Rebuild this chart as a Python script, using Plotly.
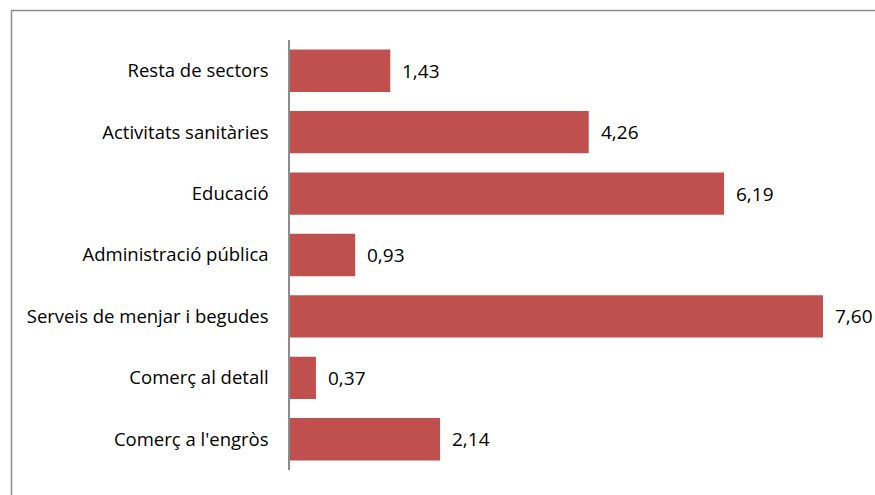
import plotly.graph_objects as go

categories = ["Comerç a l'engròs", "Comerç al detall", "Serveis de menjar i begudes",
              "Administració pública", "Educació", "Activitats sanitàries", "Resta de sectors"]
values = [2.14, 0.37, 7.60, 0.93, 6.19, 4.26, 1.43]
value_labels = ["2,14", "0,37", "7,60", "0,93", "6,19", "4,26", "1,43"]

W, H = 875, 495
ml, mr, mt, mb = 290, 24, 40, 25
pw, ph = W - ml - mr, H - mt - mb

fig = go.Figure(go.Bar(
    x=values, y=categories, orientation="h",
    marker=dict(color="#C0504D", line=dict(width=0)),
    hoverinfo="skip",
))

for v, c, t in zip(values, categories, value_labels):
    fig.add_annotation(x=v, y=c, text=t, showarrow=False, xanchor="left",
                       xshift=10, font=dict(size=19, color="#000000"))

def px_x(p):
    return (p - ml) / pw

def px_y(p):
    return 1 - (p - mt) / ph

fig.add_shape(type="rect", xref="paper", yref="paper",
              x0=px_x(11.5), x1=px_x(880), y0=px_y(10.5), y1=px_y(500),
              line=dict(color="#8C8C8C", width=1.5), fillcolor="rgba(0,0,0,0)", layer="above")

fig.update_layout(
    width=W, height=H,
    margin=dict(l=ml, r=mr, t=mt, b=mb),
    paper_bgcolor="white", plot_bgcolor="white",
    font=dict(family="Open Sans", size=18.5, color="#000000"),
    bargap=0.31,
    showlegend=False,
    xaxis=dict(range=[0, 8], visible=False, showgrid=False, zeroline=False, fixedrange=True),
    yaxis=dict(showline=True, linecolor="#8C8C8C", linewidth=1.5, ticks="",
               showgrid=False, zeroline=False, ticklabelstandoff=16,
               tickfont=dict(size=18.5), fixedrange=True),
)

fig.write_html("out.html", config={"displayModeBar": False},
               post_script="document.body.style.margin='0';document.body.style.overflow='hidden';")
